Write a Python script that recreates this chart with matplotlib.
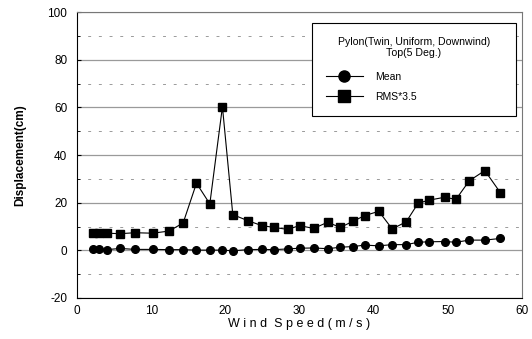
"""Pylon top displacement vs wind speed (mean and RMS*3.5)."""

import matplotlib
matplotlib.use("Agg")
import matplotlib.pyplot as plt
from matplotlib.lines import Line2D
from matplotlib.ticker import MultipleLocator

plt.rcParams["font.family"] = ["Liberation Sans", "DejaVu Sans"]
plt.rcParams["axes.unicode_minus"] = False

# Wind speed (m/s)
wind_speed = [2.2, 3.0, 4.0, 5.8, 7.8, 10.2, 12.4, 14.3, 16.1, 17.9, 19.6, 21.0,
              23.0, 24.9, 26.6, 28.4, 30.0, 31.9, 33.8, 35.5, 37.2, 38.8, 40.7,
              42.5, 44.4, 46.0, 47.5, 49.6, 51.1, 52.9, 55.0, 57.1]

# Mean displacement (cm)
mean_disp = [0.7, 0.6, 0.3, 0.8, 0.4, 0.4, 0.3, 0.3, 0.1, 0.1, 0.1, -0.2,
             0.3, 0.4, 0.3, 0.6, 0.9, 1.0, 0.7, 1.3, 1.6, 2.2, 1.9,
             2.4, 2.4, 3.4, 3.6, 3.7, 3.4, 4.3, 4.3, 5.0]

# RMS*3.5 displacement (cm)
rms_disp = [7.2, 7.2, 7.2, 7.0, 7.4, 7.2, 8.1, 11.5, 28.2, 19.5, 60.3, 15.0,
            12.5, 10.4, 9.6, 8.8, 10.4, 9.2, 11.8, 9.6, 12.2, 14.6, 16.4,
            9.0, 12.0, 19.8, 21.1, 22.3, 21.4, 29.2, 33.5, 24.2]

legend_title = "Pylon(Twin, Uniform, Downwind)\nTop(5 Deg.)"

fig = plt.figure(figsize=(5.32, 3.39), dpi=100)
ax = fig.add_axes([0.145, 0.121, 0.836, 0.843])

# Grid: solid at major, dashed at minor (horizontal only)
for y in range(-20, 101, 20):
    ax.axhline(y, color="#9a9a9a", linewidth=0.9, zorder=0)
for y in range(-10, 100, 20):
    ax.axhline(y, color="#9a9a9a", linewidth=0.7, linestyle=(0, (3, 8)), zorder=0)

ax.plot(wind_speed, mean_disp, color="black", linewidth=0.8, marker="o",
        markersize=5.5, label="Mean", zorder=3)
ax.plot(wind_speed, rms_disp, color="black", linewidth=0.8, marker="s",
        markersize=5.5, label="RMS*3.5", zorder=3)

ax.set_xlim(0, 60)
ax.set_ylim(-20, 100)
ax.xaxis.set_major_locator(MultipleLocator(10))
ax.yaxis.set_major_locator(MultipleLocator(20))
ax.yaxis.set_minor_locator(MultipleLocator(10))
ax.tick_params(axis="both", which="both", direction="in", labelsize=8.5)
ax.tick_params(axis="x", length=0, pad=5)
ax.tick_params(axis="y", which="major", length=3, pad=7)
ax.tick_params(axis="y", which="minor", length=2)
for side in ["top", "right"]:
    ax.spines[side].set_color("#777777")
for spine in ax.spines.values():
    spine.set_linewidth(0.8)

ax.set_xlabel("W i n d  S p e e d ( m / s )", fontsize=9, labelpad=1)
ax.set_ylabel("Displacement(cm)", fontsize=8.5, fontweight="bold", labelpad=15)

handles = [
    Line2D([0], [0], color="black", linewidth=0.8, marker="o", markersize=8),
    Line2D([0], [0], color="black", linewidth=0.8, marker="s", markersize=8),
]
leg = ax.legend(handles, ["Mean", "RMS*3.5"], title=legend_title,
                loc="upper left", bbox_to_anchor=(0.528, 0.0, 0.459, 0.962),
                mode="expand", fontsize=7.5, title_fontsize=7.6, fancybox=False,
                framealpha=1, edgecolor="black", borderpad=1.3,
                handlelength=3.6, handletextpad=1.2, labelspacing=0.95,
                borderaxespad=0)
leg.get_frame().set_linewidth(0.8)
leg.get_title().set_multialignment("center")
leg._legend_box.sep = 10

fig.savefig("out.png", dpi=100)
